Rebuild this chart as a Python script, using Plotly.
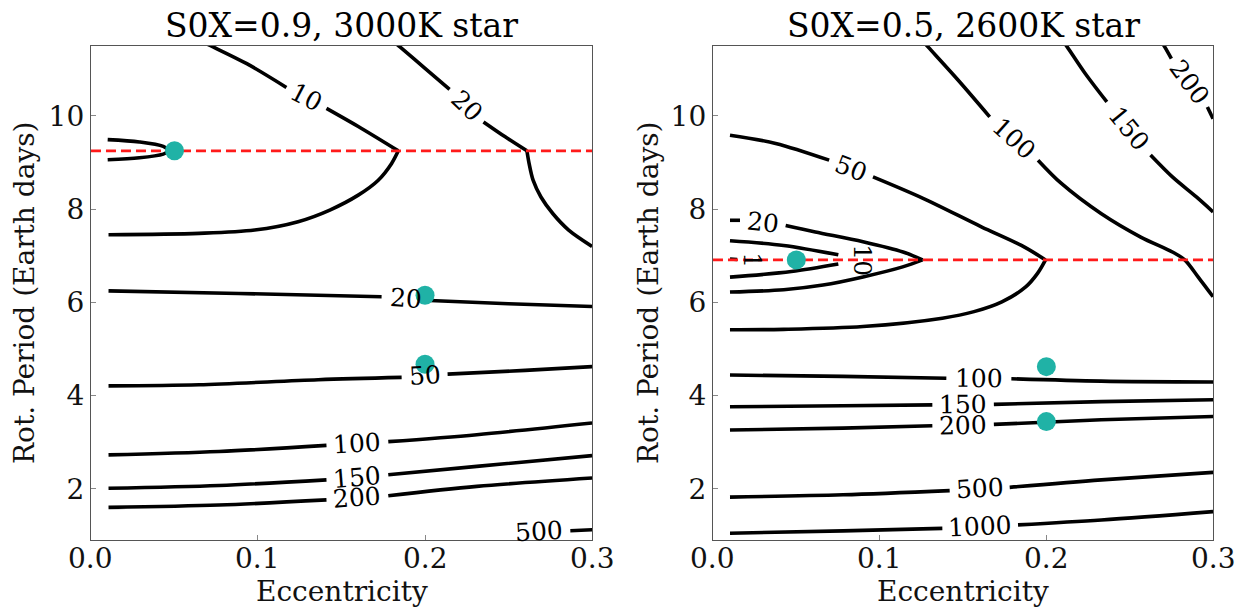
import math
import plotly.graph_objects as go

SERIF = "DejaVu Serif"

# ---------------------------------------------------------------------------
# Contour lines, eccentricity (x) and rotation period in Earth days (y).
# A None marks the break that holds the inline level label.
# ---------------------------------------------------------------------------

# Panel 1: S0X=0.9, 3000K star
p1_cap_ecc = [0.010, 0.029, 0.0433, 0.047, 0.0433, 0.029, 0.010]
p1_cap_per = [9.49, 9.44, 9.345, 9.25, 9.18, 9.10, 9.06]

p1_10_ecc = [0.066, 0.0731, 0.0933, 0.117, None, 0.141, 0.162, 0.184, 0.180,
             0.172, 0.160, 0.143, 0.124, 0.098, 0.0647, 0.0105]
p1_10_per = [11.6, 11.48, 11.12, 10.61, None, 10.16, 9.73, 9.25, 8.98,
             8.62, 8.30, 7.98, 7.73, 7.55, 7.48, 7.45]

p1_20a_ecc = [0.181, 0.185, 0.200, 0.2147, None, 0.235, 0.248, 0.261, 0.2623,
              0.2647, 0.2694, 0.2766, 0.286, 0.300]
p1_20a_per = [11.6, 11.48, 11.02, 10.57, None, 9.87, 9.55, 9.25, 8.98,
              8.62, 8.26, 7.90, 7.55, 7.20]

p1_20b_ecc = [0.0105, 0.0885, 0.174, None, 0.203, 0.250, 0.300]
p1_20b_per = [6.245, 6.19, 6.12, None, 6.04, 5.97, 5.91]

p1_50_ecc = [0.0105, 0.0647, 0.136, 0.186, None, 0.2135, 0.260, 0.300]
p1_50_per = [4.207, 4.23, 4.34, 4.39, None, 4.46, 4.54, 4.62]

p1_100_ecc = [0.0105, 0.0767, 0.141, None, 0.178, 0.231, 0.300]
p1_100_per = [2.727, 2.80, 2.93, None, 3.01, 3.16, 3.41]

p1_150_ecc = [0.0105, 0.0767, 0.141, None, 0.178, 0.231, 0.300]
p1_150_per = [2.01, 2.07, 2.19, None, 2.30, 2.48, 2.71]

p1_200_ecc = [0.0105, 0.0767, 0.141, None, 0.178, 0.231, 0.300]
p1_200_per = [1.60, 1.65, 1.76, None, 1.85, 2.05, 2.23]

p1_500_ecc = [0.287, 0.300]
p1_500_per = [1.10, 1.12]

# Panel 2: S0X=0.5, 2600K star
p2_1_ecc = [0.0102, 0.0145]
p2_1_per = [6.93, 6.92]

p2_10_ecc = [0.0102, 0.0424, 0.0752, None, 0.0752, 0.047, 0.0102]
p2_10_per = [7.32, 7.22, 7.02, None, 6.82, 6.66, 6.54]

p2_20_ecc = [0.0102, 0.0162, None, 0.0436, 0.0614, 0.090, 0.114, 0.1257,
             0.1138, 0.090, 0.066, 0.0424, 0.0102]
p2_20_per = [7.76, 7.76, None, 7.65, 7.51, 7.30, 7.08, 6.91,
             6.76, 6.545, 6.37, 6.27, 6.22]

p2_50_ecc = [0.0102, 0.0376, 0.0697, None, 0.096, 0.126, 0.161, 0.185, 0.1995,
             0.1947, 0.1876, 0.1733, 0.1566, 0.1376, 0.090, 0.0424, 0.0102]
p2_50_per = [9.585, 9.41, 9.05, None, 8.69, 8.23, 7.62, 7.22, 6.91,
             6.62, 6.33, 6.01, 5.80, 5.66, 5.48, 5.42, 5.41]

p2_100a_ecc = [0.126, 0.129, 0.147, 0.166, None, 0.195, 0.209, 0.233, 0.2566,
               0.2756, 0.283, 0.291, 0.297, 0.300]
p2_100a_per = [11.6, 11.48, 10.77, 9.98, None, 9.05, 8.55, 7.90, 7.40,
               7.08, 6.91, 6.545, 6.26, 6.12]

p2_150a_ecc = [0.210, 0.2125, 0.2233, 0.2363, None, 0.2625, 0.2756, 0.290, 0.300]
p2_150a_per = [11.6, 11.48, 10.91, 10.30, None, 9.16, 8.69, 8.26, 7.94]

p2_200a_ecc = [0.269, 0.271, 0.275, None, 0.2966, 0.300]
p2_200a_per = [11.6, 11.48, 11.23, None, 10.19, 9.94]

p2_100b_ecc = [0.0102, 0.078, 0.140, None, 0.179, 0.233, 0.300]
p2_100b_per = [4.44, 4.41, 4.37, None, 4.36, 4.31, 4.29]

p2_150b_ecc = [0.0102, 0.078, 0.1316, None, 0.1685, 0.233, 0.300]
p2_150b_per = [3.76, 3.78, 3.80, None, 3.81, 3.87, 3.91]

p2_200b_ecc = [0.0102, 0.078, 0.1316, None, 0.1685, 0.233, 0.300]
p2_200b_per = [3.26, 3.30, 3.35, None, 3.38, 3.48, 3.55]

p2_500_ecc = [0.0102, 0.078, 0.142, None, 0.178, 0.233, 0.300]
p2_500_per = [1.82, 1.87, 1.96, None, 2.03, 2.19, 2.35]

p2_1000_ecc = [0.0102, 0.078, 0.1376, None, 0.183, 0.233, 0.300]
p2_1000_per = [1.045, 1.096, 1.15, None, 1.225, 1.33, 1.51]

# Simulated cases and the synchronous-rotation period
p1_case_ecc = [0.05, 0.20, 0.20]
p1_case_per = [9.25, 6.15, 4.67]
p1_sync_per = 9.25

p2_case_ecc = [0.05, 0.20, 0.20]
p2_case_per = [6.91, 4.62, 3.44]
p2_sync_per = 6.91

titles = ["S0X=0.9, 3000K star", "S0X=0.5, 2600K star"]
x_ticks = [0.0, 0.1, 0.2, 0.3]
x_ticktext = ["0.0", "0.1", "0.2", "0.3"]
y_ticks = [2, 4, 6, 8, 10]
x_range = [0.0, 0.3]
y_range = [0.9, 11.5]

# (level text, ecc, period, label position override, angle override)
panel1 = [
    ("", p1_cap_ecc, p1_cap_per, None, None),
    ("10", p1_10_ecc, p1_10_per, None, None),
    ("20", p1_20a_ecc, p1_20a_per, None, None),
    ("20", p1_20b_ecc, p1_20b_per, None, None),
    ("50", p1_50_ecc, p1_50_per, None, None),
    ("100", p1_100_ecc, p1_100_per, None, None),
    ("150", p1_150_ecc, p1_150_per, None, None),
    ("200", p1_200_ecc, p1_200_per, None, None),
    ("500", p1_500_ecc, p1_500_per, (0.2685, 1.09), -3),
]
panel2 = [
    ("1", p2_1_ecc, p2_1_per, (0.0232, 6.91), 90),
    ("10", p2_10_ecc, p2_10_per, (0.0892, 6.91), 90),
    ("20", p2_20_ecc, p2_20_per, None, None),
    ("50", p2_50_ecc, p2_50_per, None, None),
    ("100", p2_100a_ecc, p2_100a_per, None, None),
    ("150", p2_150a_ecc, p2_150a_per, None, None),
    ("200", p2_200a_ecc, p2_200a_per, None, None),
    ("100", p2_100b_ecc, p2_100b_per, None, None),
    ("150", p2_150b_ecc, p2_150b_per, None, None),
    ("200", p2_200b_ecc, p2_200b_per, None, None),
    ("500", p2_500_ecc, p2_500_per, None, None),
    ("1000", p2_1000_ecc, p2_1000_per, None, None),
]

W, H = 1248, 609
x_domains = [[0.0729, 0.4744], [0.5713, 0.9720]]
y_domain = [0.1133, 0.9245]
TEAL = "#20B2A6"

fig = go.Figure()


def px_scale(dom):
    sx = (dom[1] - dom[0]) * W / (x_range[1] - x_range[0])
    sy = (y_domain[1] - y_domain[0]) * H / (y_range[1] - y_range[0])
    return sx, sy


def label_angle(e0, p0, e1, p1, dom):
    """Screen angle (deg, clockwise) of the segment spanning a label gap."""
    sx, sy = px_scale(dom)
    ang = -math.degrees(math.atan2((p1 - p0) * sy, (e1 - e0) * sx))
    if ang > 90:
        ang -= 180
    if ang < -90:
        ang += 180
    return ang


def smooth_pieces(ecc, per, dom):
    """Split a contour at label gaps and at sharp corners so that each piece
    can be drawn as a spline while cusps stay pointed."""
    sx, sy = px_scale(dom)
    runs, cur = [], []
    for e, p in zip(ecc, per):
        if e is None:
            if cur:
                runs.append(cur)
            cur = []
        else:
            cur.append((e, p))
    if cur:
        runs.append(cur)
    xs, ys = [], []
    for run in runs:
        piece = [run[0]]
        for i in range(1, len(run)):
            piece.append(run[i])
            if 0 < i < len(run) - 1:
                a = math.atan2((run[i][1] - run[i - 1][1]) * sy,
                               (run[i][0] - run[i - 1][0]) * sx)
                b = math.atan2((run[i + 1][1] - run[i][1]) * sy,
                               (run[i + 1][0] - run[i][0]) * sx)
                turn = abs((b - a + math.pi) % (2 * math.pi) - math.pi)
                if turn > math.radians(35):
                    xs += [q[0] for q in piece] + [None]
                    ys += [q[1] for q in piece] + [None]
                    piece = [run[i]]
        xs += [q[0] for q in piece] + [None]
        ys += [q[1] for q in piece] + [None]
    return xs, ys


annotations = []
for k, (panel, sync_per, c_ecc, c_per) in enumerate(
        [(panel1, p1_sync_per, p1_case_ecc, p1_case_per),
         (panel2, p2_sync_per, p2_case_ecc, p2_case_per)]):
    xa = "x" if k == 0 else "x2"
    ya = "y" if k == 0 else "y2"
    for text, ecc, per, pos, ang in panel:
        xs, ys = smooth_pieces(ecc, per, x_domains[k])
        fig.add_trace(go.Scatter(
            x=xs, y=ys, mode="lines", xaxis=xa, yaxis=ya,
            line=dict(color="black", width=3.6, shape="spline", smoothing=0.9),
            connectgaps=False, hoverinfo="skip", showlegend=False))
        if not text:
            continue
        if pos is None or ang is None:
            i = ecc.index(None)
            e0, p0, e1, p1 = ecc[i - 1], per[i - 1], ecc[i + 1], per[i + 1]
            if pos is None:
                pos = ((e0 + e1) / 2, (p0 + p1) / 2)
            if ang is None:
                ang = label_angle(e0, p0, e1, p1, x_domains[k])
        annotations.append(dict(
            x=pos[0], y=pos[1], xref=xa, yref=ya, text=text, showarrow=False,
            textangle=ang, xanchor="center", yanchor="middle",
            font=dict(family=SERIF, size=25, color="black")))

    # synchronous rotation period
    fig.add_trace(go.Scatter(
        x=x_range, y=[sync_per, sync_per], mode="lines", xaxis=xa, yaxis=ya,
        line=dict(color="#FF1A1A", width=2.7, dash="10px,5px"),
        hoverinfo="skip", showlegend=False))
    # simulated cases
    fig.add_trace(go.Scatter(
        x=c_ecc, y=c_per, mode="markers", xaxis=xa, yaxis=ya,
        marker=dict(color=TEAL, size=19, line=dict(width=0)),
        hoverinfo="skip", showlegend=False, cliponaxis=False))

    # x tick labels, set a little closer to the axis than the default
    for tv, tt in zip(x_ticks, x_ticktext):
        annotations.append(dict(
            x=tv, y=(H - 558) / H, xref=xa, yref="paper", text=tt,
            showarrow=False, xanchor="center", yanchor="middle",
            font=dict(family=SERIF, size=28, color="#111")))

    xc = (x_domains[k][0] + x_domains[k][1]) / 2
    annotations.append(dict(
        x=xc, y=(H - 26) / H, xref="paper", yref="paper", text=titles[k],
        showarrow=False, xanchor="center", yanchor="middle",
        font=dict(family=SERIF, size=33, color="black")))
    annotations.append(dict(
        x=xc, y=(H - 591) / H, xref="paper", yref="paper", text="Eccentricity",
        showarrow=False, xanchor="center", yanchor="middle",
        font=dict(family=SERIF, size=28, color="#111")))
    annotations.append(dict(
        x=(25 + k * 624) / W, y=(y_domain[0] + y_domain[1]) / 2,
        xref="paper", yref="paper", text="Rot. Period (Earth days)",
        textangle=-90, showarrow=False, xanchor="center", yanchor="middle",
        font=dict(family=SERIF, size=28, color="#111")))

axis_common = dict(
    showline=True, mirror=True, linecolor="#555", linewidth=1.3,
    ticks="inside", ticklen=5, tickcolor="#888", tickwidth=1,
    showgrid=False, zeroline=False, automargin=False,
    tickfont=dict(family=SERIF, size=28, color="#111"),
)

fig.update_layout(
    template="none",
    width=W, height=H, margin=dict(l=0, r=0, t=0, b=0, pad=0),
    paper_bgcolor="white", plot_bgcolor="white",
    xaxis=dict(domain=x_domains[0], range=x_range, tickvals=x_ticks,
               showticklabels=False, anchor="y", **axis_common),
    yaxis=dict(domain=y_domain, range=y_range, tickvals=y_ticks,
               anchor="x", **axis_common),
    xaxis2=dict(domain=x_domains[1], range=x_range, tickvals=x_ticks,
                showticklabels=False, anchor="y2", **axis_common),
    yaxis2=dict(domain=y_domain, range=y_range, tickvals=y_ticks,
                anchor="x2", **axis_common),
    annotations=annotations,
    showlegend=False,
)

fig.write_html("out.html")
